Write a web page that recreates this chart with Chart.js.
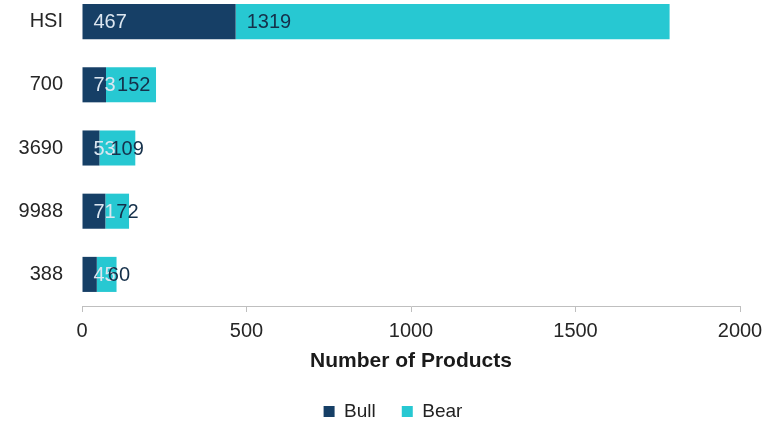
<!DOCTYPE html>
<html>
<head>
<meta charset="utf-8">
<script src="https://cdn.jsdelivr.net/npm/chart.js@4.4.1/dist/chart.umd.min.js"></script>
<style>
  html, body { margin: 0; padding: 0; background: #fff; overflow: hidden; }
  #wrap { position: relative; width: 765px; height: 424px; overflow: hidden; }
  #productChart { position: absolute; left: 0; top: -10px; }
</style>
</head>
<body>
<div id="wrap"><canvas id="productChart" width="765" height="441"></canvas></div>
<script>
// data
const stocks = ["HSI", "700", "3690", "9988", "388"];
const bullCounts = [467, 73, 53, 71, 45];
const bearCounts = [1319, 152, 109, 72, 60];
const xTicks = [0, 500, 1000, 1500, 2000];

const FONT = "'Liberation Sans', Arial, sans-serif";
Chart.defaults.font.family = FONT;
Chart.defaults.color = "#262626";

// value labels at the inner left of each segment
const segmentLabels = {
    id: "segmentLabels",
    afterLayout(chart) {
        // nudge legend right, it sits a bit right of centre in the original
        chart.legend.left += 23;
        chart.legend.right += 23;
    },
    afterDatasetsDraw(chart) {
        const ctx = chart.ctx;
        ctx.save();
        ctx.font = "20px " + FONT;
        ctx.textAlign = "left";
        ctx.textBaseline = "middle";
        chart.data.datasets.forEach((ds, i) => {
            chart.getDatasetMeta(i).data.forEach((bar, j) => {
                ctx.fillStyle = ds.labelColor;
                ctx.fillText(ds.data[j], bar.base + 11, bar.y + 1);
            });
        });
        ctx.restore();
    }
};

const ctx = document.getElementById("productChart").getContext("2d");

new Chart(ctx, {
    type: "bar",
    data: {
        labels: stocks,
        datasets: [
            { label: "Bull", data: bullCounts, backgroundColor: "#163f66", labelColor: "#dce6f0" },
            { label: "Bear", data: bearCounts, backgroundColor: "#27c8d2", labelColor: "#15304a" }
        ]
    },
    options: {
        indexAxis: "y",
        responsive: false,
        animation: false,
        categoryPercentage: 1,
        barPercentage: 0.555,
        layout: { padding: { top: 0, right: 25, bottom: 0, left: 0 } },
        scales: {
            x: {
                stacked: true,
                min: 0,
                max: 2000,
                afterBuildTicks: s => { s.ticks = xTicks.map(v => ({ value: v })); },
                grid: { drawOnChartArea: false, color: "#bfbfbf", tickLength: 6 },
                border: { color: "#bfbfbf" },
                ticks: { padding: 7, font: { size: 20 }, callback: v => String(v) },
                title: {
                    display: true,
                    text: "Number of Products",
                    color: "#1a1a1a",
                    font: { size: 21, weight: "bold" },
                    padding: { top: 0, bottom: 2 }
                },
                afterFit: s => { s.height = 70; s.paddingLeft = 0; s.paddingRight = 0; }
            },
            y: {
                stacked: true,
                grid: { display: false, drawTicks: false },
                border: { display: false },
                ticks: { padding: 19, font: { size: 20 } },
                afterFit: s => { s.width = 82; s.paddingTop = 0; s.paddingBottom = 0; }
            }
        },
        plugins: {
            legend: {
                position: "bottom",
                labels: { boxWidth: 11, boxHeight: 11, padding: 26, color: "#222", font: { size: 19 } }
            },
            tooltip: { enabled: false }
        }
    },
    plugins: [segmentLabels]
});
</script>
</body>
</html>
